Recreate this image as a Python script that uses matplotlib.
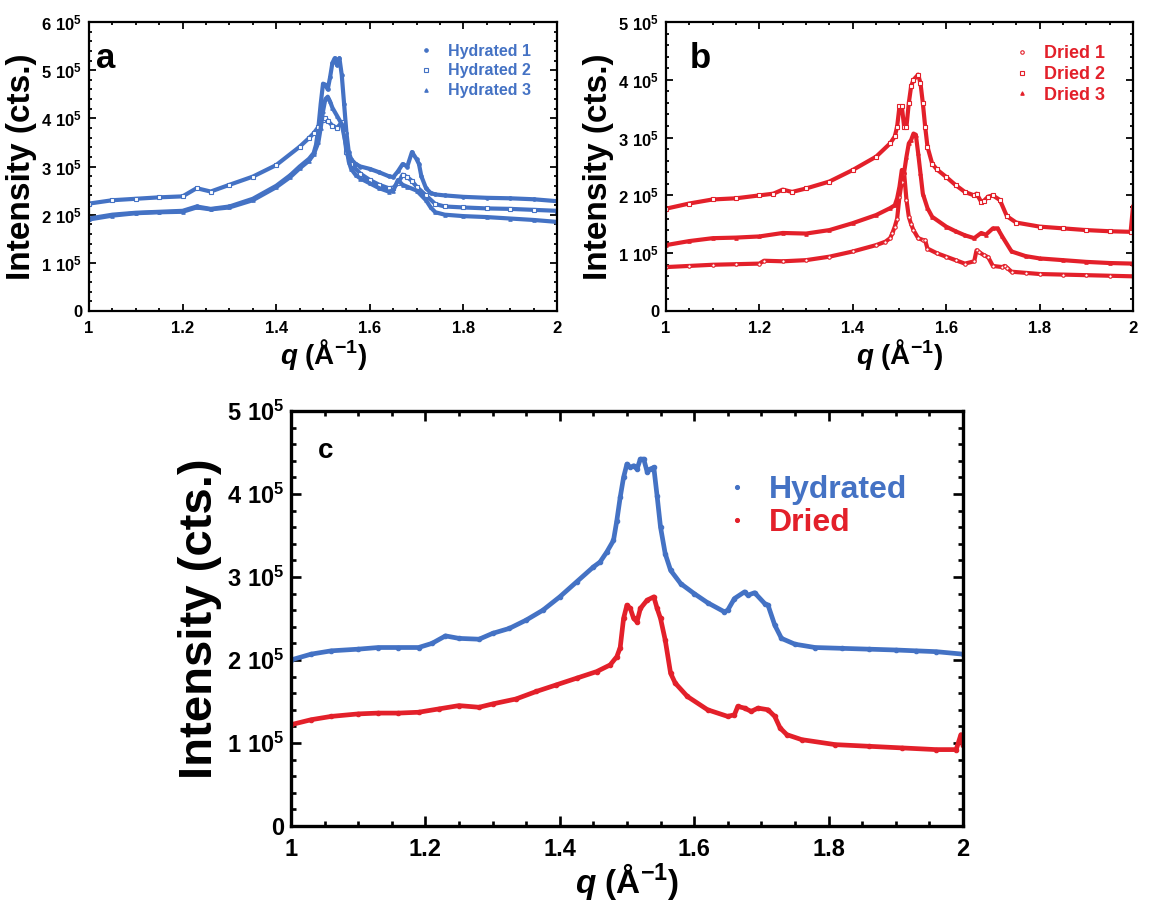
import numpy as np
import matplotlib
matplotlib.use("Agg")
import matplotlib.pyplot as plt
from matplotlib.ticker import MultipleLocator, FuncFormatter

plt.rcParams["font.family"] = ["Liberation Sans", "DejaVu Sans"]
plt.rcParams["font.weight"] = "bold"
plt.rcParams["mathtext.fontset"] = "custom"
plt.rcParams["mathtext.rm"] = "Liberation Sans:bold"
plt.rcParams["mathtext.bf"] = "Liberation Sans:bold"
plt.rcParams["mathtext.it"] = "Liberation Sans:bold:italic"

BLUE = "#4472C4"
RED = "#E3202A"

# intensities in units of 1e5 cts
# panel a - hydrated
q_h1 = [1.00, 1.05, 1.10, 1.15, 1.20, 1.23, 1.26, 1.30, 1.35, 1.40, 1.43, 1.45, 1.47, 1.48, 1.485,
        1.49, 1.495, 1.50, 1.505, 1.51, 1.515, 1.52, 1.525, 1.53, 1.535, 1.54, 1.545, 1.55, 1.555,
        1.56, 1.57, 1.58, 1.60, 1.62, 1.64, 1.65, 1.66, 1.67, 1.68, 1.69, 1.70, 1.705, 1.71, 1.72,
        1.73, 1.74, 1.76, 1.80, 1.85, 1.90, 1.95, 2.00]
I_h1 = [1.92, 2.00, 2.04, 2.06, 2.08, 2.17, 2.12, 2.17, 2.33, 2.60, 2.82, 3.00, 3.16, 3.28, 3.45,
        3.80, 4.30, 4.72, 4.70, 4.60, 4.85, 5.15, 5.25, 5.10, 5.25, 4.90, 4.30, 3.70, 3.30,
        3.15, 3.05, 3.00, 2.95, 2.88, 2.80, 2.78, 2.90, 3.05, 3.00, 3.30, 3.15, 3.05, 2.80, 2.55,
        2.45, 2.42, 2.40, 2.37, 2.35, 2.34, 2.32, 2.28]

q_h2 = [1.00, 1.05, 1.10, 1.15, 1.20, 1.23, 1.26, 1.30, 1.35, 1.40, 1.45, 1.47, 1.48, 1.49, 1.50,
        1.505, 1.51, 1.52, 1.53, 1.54, 1.545, 1.55, 1.56, 1.58, 1.60, 1.62, 1.64, 1.65, 1.66, 1.67,
        1.68, 1.69, 1.70, 1.72, 1.74, 1.76, 1.80, 1.85, 1.90, 1.95, 2.00]
I_h2 = [2.23, 2.30, 2.33, 2.36, 2.38, 2.55, 2.48, 2.62, 2.79, 3.03, 3.41, 3.59, 3.69, 3.82, 3.97,
        4.00, 3.95, 3.85, 3.80, 3.92, 3.70, 3.30, 3.05, 2.85, 2.72, 2.62, 2.55, 2.56, 2.65, 2.83,
        2.78, 2.70, 2.58, 2.40, 2.22, 2.17, 2.15, 2.13, 2.12, 2.10, 2.08]

q_h3 = [1.00, 1.05, 1.10, 1.15, 1.20, 1.23, 1.26, 1.30, 1.35, 1.40, 1.43, 1.45, 1.47, 1.48, 1.49,
        1.495, 1.50, 1.505, 1.51, 1.515, 1.52, 1.53, 1.54, 1.55, 1.555, 1.56, 1.57, 1.58, 1.60,
        1.62, 1.64, 1.65, 1.66, 1.67, 1.68, 1.70, 1.72, 1.73, 1.74, 1.76, 1.80, 1.85, 1.90, 1.95, 2.00]
I_h3 = [1.90, 1.98, 2.03, 2.05, 2.06, 2.15, 2.11, 2.15, 2.30, 2.57, 2.78, 2.96, 3.12, 3.25, 3.50,
        3.80, 4.15, 4.40, 4.45, 4.35, 4.22, 4.05, 3.88, 3.40, 3.10, 2.95, 2.82, 2.75, 2.65,
        2.55, 2.48, 2.50, 2.72, 2.62, 2.58, 2.50, 2.30, 2.15, 2.05, 2.00, 1.97, 1.95, 1.92, 1.89, 1.85]

# panel b - dried
q_d1 = [1.00, 1.05, 1.10, 1.15, 1.20, 1.21, 1.25, 1.30, 1.35, 1.40, 1.45, 1.47, 1.48, 1.485, 1.49,
        1.495, 1.50, 1.505, 1.51, 1.515, 1.52, 1.525, 1.53, 1.54, 1.55, 1.555, 1.56, 1.58, 1.60,
        1.62, 1.64, 1.66, 1.665, 1.67, 1.68, 1.69, 1.70, 1.72, 1.725, 1.73, 1.74, 1.77, 1.80, 1.85,
        1.90, 1.95, 2.00]
I_d1 = [0.76, 0.78, 0.80, 0.81, 0.82, 0.87, 0.86, 0.88, 0.94, 1.03, 1.14, 1.20, 1.26, 1.35, 1.46,
        1.60, 1.98, 2.24, 2.38, 1.92, 1.63, 1.50, 1.40, 1.26, 1.23, 1.22, 1.08, 1.00, 0.94,
        0.88, 0.82, 0.86, 1.05, 1.02, 0.97, 0.93, 0.78, 0.76, 0.78, 0.75, 0.68, 0.66, 0.64, 0.63,
        0.62, 0.61, 0.60]

q_d2 = [1.00, 1.05, 1.10, 1.15, 1.20, 1.23, 1.25, 1.27, 1.30, 1.35, 1.40, 1.45, 1.48, 1.49, 1.495,
        1.50, 1.505, 1.51, 1.515, 1.52, 1.525, 1.53, 1.54, 1.545, 1.55, 1.555, 1.56, 1.57, 1.58,
        1.60, 1.62, 1.64, 1.66, 1.665, 1.675, 1.68, 1.69, 1.70, 1.715, 1.73, 1.75, 1.80, 1.85,
        1.90, 1.95, 1.995, 2.00]
I_d2 = [1.77, 1.86, 1.93, 1.95, 2.00, 2.03, 2.10, 2.06, 2.12, 2.24, 2.44, 2.67, 2.90, 3.02, 3.19,
        3.54, 3.54, 3.19, 3.19, 3.60, 3.89, 4.00, 4.09, 3.94, 3.60, 3.19, 2.84, 2.55, 2.45,
        2.32, 2.18, 2.06, 2.00, 2.03, 1.89, 1.90, 1.98, 2.00, 1.92, 1.64, 1.53, 1.46, 1.43,
        1.40, 1.38, 1.37, 1.80]

q_d3 = [1.00, 1.05, 1.10, 1.15, 1.20, 1.25, 1.30, 1.35, 1.40, 1.45, 1.48, 1.49, 1.495, 1.50, 1.505,
        1.51, 1.515, 1.52, 1.525, 1.53, 1.535, 1.54, 1.545, 1.55, 1.56, 1.57, 1.60, 1.62, 1.64,
        1.66, 1.675, 1.685, 1.70, 1.71, 1.72, 1.74, 1.77, 1.80, 1.85, 1.90, 1.95, 2.00]
I_d3 = [1.14, 1.21, 1.26, 1.27, 1.29, 1.35, 1.34, 1.40, 1.52, 1.66, 1.78, 1.83, 1.95, 2.15, 2.44,
        2.40, 2.67, 2.90, 2.96, 3.07, 3.05, 2.73, 2.38, 2.03, 1.78, 1.63, 1.46, 1.38, 1.31,
        1.26, 1.35, 1.32, 1.43, 1.43, 1.29, 1.03, 0.95, 0.91, 0.88, 0.85, 0.83, 0.82]

# panel c - averages
q_hyd = [1.00, 1.03, 1.06, 1.10, 1.13, 1.16, 1.19, 1.21, 1.23, 1.25, 1.28, 1.30, 1.325, 1.35, 1.375,
         1.40, 1.425, 1.45, 1.46, 1.47, 1.48, 1.485, 1.49, 1.495, 1.50, 1.505, 1.51, 1.515, 1.52,
         1.525, 1.53, 1.535, 1.54, 1.545, 1.55, 1.557, 1.565, 1.58, 1.60, 1.62, 1.645, 1.65, 1.66,
         1.675, 1.68, 1.69, 1.705, 1.71, 1.72, 1.73, 1.75, 1.78, 1.82, 1.86, 1.90, 1.93, 1.96, 2.00]
I_hyd = [2.00, 2.07, 2.11, 2.13, 2.15, 2.15, 2.15, 2.20, 2.29, 2.26, 2.25, 2.32, 2.38, 2.48, 2.60,
         2.76, 2.94, 3.12, 3.18, 3.30, 3.44, 3.68, 3.96, 4.20, 4.36, 4.32, 4.34, 4.30, 4.42,
         4.42, 4.27, 4.30, 4.32, 3.97, 3.60, 3.28, 3.08, 2.92, 2.80, 2.69, 2.58, 2.60, 2.74,
         2.82, 2.78, 2.81, 2.68, 2.66, 2.42, 2.26, 2.19, 2.15, 2.14, 2.13, 2.12, 2.11, 2.10, 2.07]

q_dry = [1.00, 1.03, 1.06, 1.10, 1.13, 1.16, 1.19, 1.22, 1.25, 1.28, 1.30, 1.335, 1.365, 1.395, 1.425,
         1.455, 1.475, 1.485, 1.49, 1.495, 1.50, 1.505, 1.51, 1.515, 1.52, 1.53, 1.54, 1.545, 1.55,
         1.557, 1.565, 1.572, 1.59, 1.62, 1.65, 1.66, 1.665, 1.675, 1.685, 1.695, 1.71, 1.72, 1.728,
         1.738, 1.76, 1.81, 1.86, 1.91, 1.96, 1.99, 1.997, 2.00]
I_dry = [1.22, 1.28, 1.32, 1.35, 1.36, 1.36, 1.37, 1.41, 1.45, 1.43, 1.47, 1.53, 1.62, 1.70, 1.78,
         1.86, 1.94, 2.04, 2.15, 2.50, 2.66, 2.62, 2.50, 2.46, 2.62, 2.72, 2.76, 2.62, 2.50,
         2.24, 1.84, 1.72, 1.56, 1.40, 1.32, 1.34, 1.44, 1.42, 1.38, 1.42, 1.40, 1.32, 1.18,
         1.10, 1.04, 0.98, 0.96, 0.94, 0.92, 0.92, 1.10, 0.98]


def sci_fmt(v, pos):
    n = int(round(v / 1e5))
    if n == 0:
        return "0"
    return r"$%d\ 10^{5}$" % n


def style_axes(ax, ymax, tick_fs, xlab_fs, ylab_fs, lw, major_len, minor_len, xpad, xlpad=1):
    ax.set_xlim(1, 2)
    ax.set_ylim(0, ymax)
    ax.xaxis.set_major_locator(MultipleLocator(0.2))
    ax.xaxis.set_minor_locator(MultipleLocator(0.05))
    ax.yaxis.set_major_locator(MultipleLocator(1e5))
    ax.yaxis.set_minor_locator(MultipleLocator(2e4))
    ax.xaxis.set_major_formatter(FuncFormatter(lambda v, p: "%g" % round(v, 2)))
    ax.yaxis.set_major_formatter(FuncFormatter(sci_fmt))
    ax.tick_params(which="both", direction="in", top=True, right=True, width=lw * 0.8,
                   labelsize=tick_fs)
    ax.tick_params(which="major", length=major_len)
    ax.tick_params(which="minor", length=minor_len)
    ax.tick_params(axis="x", which="major", pad=xpad)
    ax.tick_params(axis="y", which="major", pad=5)
    for sp in ax.spines.values():
        sp.set_linewidth(lw)
    for t in ax.get_xticklabels() + ax.get_yticklabels():
        t.set_fontweight("bold")
    ax.set_xlabel(r"$q$ (Å$^{-1}$)", fontsize=xlab_fs, fontweight="bold", labelpad=xlpad)
    ax.set_ylabel("Intensity (cts.)", fontsize=ylab_fs, fontweight="bold", labelpad=3)


def draw(ax, q, I, color, marker, label, ms, lw, mfc=None):
    q = np.array(q)
    I = np.array(I) * 1e5
    ax.plot(q, I, "-", color=color, lw=lw)
    ax.plot(q, I, ls="none", marker=marker, ms=ms, color=color,
            mfc=color if mfc is None else mfc, mew=0.8, label=label)


fig = plt.figure(figsize=(11.5, 9.02), dpi=100)

ax_a = fig.add_axes([0.0774, 0.6552, 0.4070, 0.3204])
ax_b = fig.add_axes([0.5791, 0.6552, 0.4061, 0.3204])
ax_c = fig.add_axes([0.2530, 0.0843, 0.5843, 0.4601])

# a
draw(ax_a, q_h1, I_h1, BLUE, "o", "Hydrated 1", 2.5, 3.0)
draw(ax_a, q_h2, I_h2, BLUE, "s", "Hydrated 2", 2.5, 3.0, mfc="white")
draw(ax_a, q_h3, I_h3, BLUE, "^", "Hydrated 3", 2.5, 3.0)
style_axes(ax_a, 6e5, 12, 20, 24, 1.6, 5, 2.5, 7)
leg = ax_a.legend(loc="upper right", bbox_to_anchor=(0.975, 0.975), frameon=False,
                  prop={"weight": "bold", "size": 11.5}, handletextpad=1.0, labelspacing=0.3,
                  handlelength=0.8)
for t in leg.get_texts():
    t.set_color(BLUE)
ax_a.text(0.015, 0.93, "a", transform=ax_a.transAxes, fontsize=25, fontweight="bold",
          va="top", ha="left")

# b
draw(ax_b, q_d1, I_d1, RED, "o", "Dried 1", 2.5, 3.0, mfc="white")
draw(ax_b, q_d2, I_d2, RED, "s", "Dried 2", 2.5, 3.0, mfc="white")
draw(ax_b, q_d3, I_d3, RED, "^", "Dried 3", 2.5, 3.0)
style_axes(ax_b, 5e5, 12, 20, 24, 1.6, 5, 2.5, 7)
leg = ax_b.legend(loc="upper right", bbox_to_anchor=(0.975, 0.975), frameon=False,
                  prop={"weight": "bold", "size": 13}, handletextpad=0.8, labelspacing=0.2,
                  handlelength=0.8)
for t in leg.get_texts():
    t.set_color(RED)
ax_b.text(0.05, 0.93, "b", transform=ax_b.transAxes, fontsize=25, fontweight="bold",
          va="top", ha="left")

# c
draw(ax_c, q_hyd, I_hyd, BLUE, "o", "Hydrated", 3.2, 3.4)
draw(ax_c, q_dry, I_dry, RED, "o", "Dried", 3.2, 3.4)
style_axes(ax_c, 5e5, 17, 24, 34, 2.4, 7, 3.5, 9, xlpad=0)
leg = ax_c.legend(loc="upper right", bbox_to_anchor=(0.96, 0.915), frameon=False,
                  prop={"weight": "bold", "size": 23}, handletextpad=0.6, labelspacing=0.1,
                  handlelength=0.8, markerscale=0.9)
for t, h in zip(leg.get_texts(), leg.legend_handles):
    t.set_color(h.get_color())
ax_c.text(0.04, 0.935, "c", transform=ax_c.transAxes, fontsize=20, fontweight="bold",
          va="top", ha="left")

fig.savefig("out.png", dpi=100)
